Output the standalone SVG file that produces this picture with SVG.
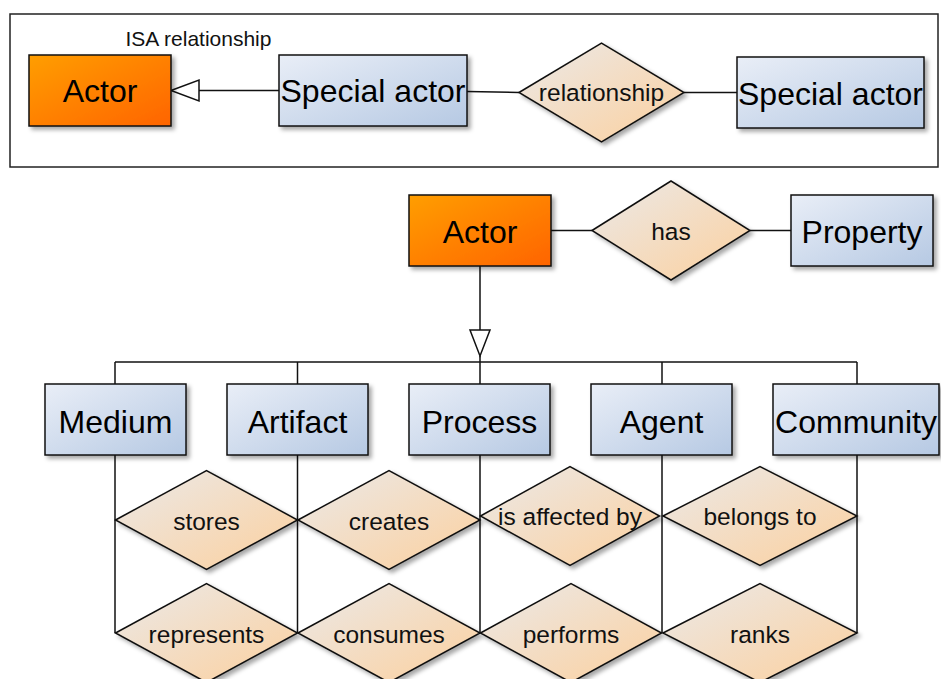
<svg xmlns="http://www.w3.org/2000/svg" width="941" height="679" viewBox="0 0 941 679">
<defs>
<linearGradient id="gOrange" x1="0" y1="0" x2="1" y2="1"><stop offset="0" stop-color="#ff9e00"/><stop offset="1" stop-color="#ff6400"/></linearGradient>
<linearGradient id="gBlue" x1="0" y1="0" x2="1" y2="1"><stop offset="0" stop-color="#e9eef7"/><stop offset="1" stop-color="#b6c9e3"/></linearGradient>
<linearGradient id="gPeach" x1="0" y1="0" x2="1" y2="1"><stop offset="0" stop-color="#ebe9e8"/><stop offset="1" stop-color="#fcd09e"/></linearGradient>
<filter id="sh" x="-10%" y="-10%" width="130%" height="140%"><feDropShadow dx="3" dy="3" stdDeviation="2" flood-color="#000" flood-opacity="0.35"/></filter>
</defs>
<style>
.box{stroke:#111;stroke-width:1.5;filter:url(#sh)}
.actor{fill:url(#gOrange)}
.ent{fill:url(#gBlue)}
.rel{fill:url(#gPeach);stroke:#111;stroke-width:1.5;filter:url(#sh)}
.big{font-family:"Liberation Sans",Arial,sans-serif;font-size:32px;text-anchor:middle;fill:#000}
.small{font-family:"Liberation Sans",Arial,sans-serif;font-size:24.5px;text-anchor:middle;fill:#111}
.lbl{font-family:"Liberation Sans",Arial,sans-serif;font-size:21px;fill:#111}
.ln{stroke:#111;stroke-width:1.5;fill:none}
.tri{fill:#fff;stroke:#111;stroke-width:1.5}
</style>
<rect id="frame" x="10" y="14" width="928" height="153" fill="#fff" stroke="#222" stroke-width="1.5"/>
<text class="lbl" x="198.5" y="46" text-anchor="middle">ISA relationship</text>

<g id="connectors">
<line class="ln" x1="279" y1="90.5" x2="190" y2="90.5"/>
<polygon class="tri" points="171,90.5 199,80 199,101"/>
<line class="ln" x1="467" y1="91.5" x2="519" y2="92.5"/>
<line class="ln" x1="684" y1="92.5" x2="737" y2="92.5"/>
<line class="ln" x1="551" y1="230.5" x2="592" y2="230.5"/>
<line class="ln" x1="750" y1="230.5" x2="791" y2="230.5"/>
<line class="ln" x1="480" y1="266" x2="480" y2="330"/>
<polygon class="tri" points="470,330 490,330 480,356"/>
<line class="ln" x1="480" y1="356" x2="480" y2="362"/>
<line class="ln" x1="115" y1="362" x2="857" y2="362"/>
<line class="ln" x1="115" y1="362" x2="115" y2="384"/>
<line class="ln" x1="297.5" y1="362" x2="297.5" y2="384"/>
<line class="ln" x1="480" y1="362" x2="480" y2="384"/>
<line class="ln" x1="662" y1="362" x2="662" y2="384"/>
<line class="ln" x1="857" y1="362" x2="857" y2="384"/>
<line class="ln" x1="115" y1="455" x2="115" y2="633"/>
<line class="ln" x1="297.5" y1="455" x2="297.5" y2="633"/>
<line class="ln" x1="480" y1="455" x2="480" y2="633"/>
<line class="ln" x1="662" y1="455" x2="662" y2="633"/>
<line class="ln" x1="857" y1="455" x2="857" y2="633"/>
</g>

<g id="isa-actor"><rect class="box actor" x="29" y="55" width="142" height="71"/><text class="big" x="100" y="102">Actor</text></g>
<g id="isa-special1"><rect class="box ent" x="279" y="55" width="188" height="71"/><text class="big" x="373" y="102">Special actor</text></g>
<g id="isa-rel"><polygon class="rel" points="519,92.5 601.5,43 684,92.5 601.5,142"/><text class="small" x="601.5" y="101">relationship</text></g>
<g id="isa-special2"><rect class="box ent" x="737" y="57" width="187" height="71"/><text class="big" x="830.5" y="105">Special actor</text></g>

<g id="actor"><rect class="box actor" x="409" y="195" width="142" height="71"/><text class="big" x="480" y="243">Actor</text></g>
<g id="has"><polygon class="rel" points="592,230.5 671,181 750,230.5 671,280"/><text class="small" x="671" y="240">has</text></g>
<g id="property"><rect class="box ent" x="791" y="195" width="142" height="71"/><text class="big" x="862" y="243">Property</text></g>

<g id="medium"><rect class="box ent" x="45" y="384" width="141" height="71"/><text class="big" x="115.5" y="432.5">Medium</text></g>
<g id="artifact"><rect class="box ent" x="227" y="384" width="141" height="71"/><text class="big" x="297.5" y="432.5">Artifact</text></g>
<g id="process"><rect class="box ent" x="409" y="384" width="141" height="71"/><text class="big" x="479.5" y="432.5">Process</text></g>
<g id="agent"><rect class="box ent" x="591" y="384" width="141" height="71"/><text class="big" x="661.5" y="432.5">Agent</text></g>
<g id="community"><rect class="box ent" x="773" y="384" width="166" height="71"/><text class="big" x="856" y="432.5">Community</text></g>

<g id="stores"><polygon class="rel" points="115.5,520 206.5,470.5 297.5,520 206.5,569.5"/><text class="small" x="206.5" y="529.5">stores</text></g>
<g id="creates"><polygon class="rel" points="298,520 389,470.5 480,520 389,569.5"/><text class="small" x="389" y="529.5">creates</text></g>
<g id="is-affected-by"><polygon class="rel" points="480.5,516 570,466.5 659.5,516 570,565.5"/><text class="small" x="570" y="525">is affected by</text></g>
<g id="belongs-to"><polygon class="rel" points="663,516 760,466.5 857,516 760,565.5"/><text class="small" x="760" y="525">belongs to</text></g>
<g id="represents"><polygon class="rel" points="115.5,633 206.5,583.5 297.5,633 206.5,682.5"/><text class="small" x="206.5" y="642.5">represents</text></g>
<g id="consumes"><polygon class="rel" points="298,633 389,583.5 480,633 389,682.5"/><text class="small" x="389" y="642.5">consumes</text></g>
<g id="performs"><polygon class="rel" points="480.5,633 571,583.5 661.5,633 571,682.5"/><text class="small" x="571" y="642.5">performs</text></g>
<g id="ranks"><polygon class="rel" points="663,633 760,583.5 857,633 760,682.5"/><text class="small" x="760" y="642.5">ranks</text></g>
</svg>
